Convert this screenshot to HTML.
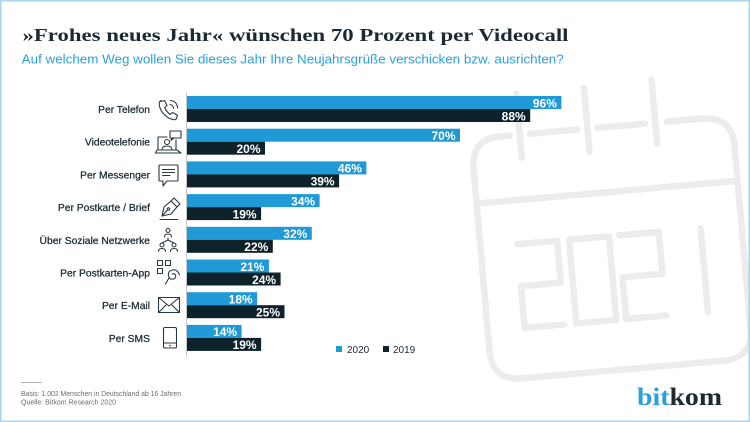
<!DOCTYPE html>
<html>
<head>
<meta charset="utf-8">
<style>
html,body{margin:0;padding:0;background:#fff;}
svg{display:block;}
</style>
</head>
<body>
<svg width="750" height="422" viewBox="0 0 750 422" xmlns="http://www.w3.org/2000/svg">
  <rect x="0" y="0" width="750" height="422" fill="#ffffff"/>

  <!-- watermark calendar -->
  <g transform="rotate(-5 612 248)" fill="none" stroke="#ececec" stroke-width="6.5" stroke-linecap="round" stroke-linejoin="round">
    <path d="M520,127 H511 Q481,127 481,157 V340 Q481,370 511,370 H713 Q743,370 743,340 V157 Q743,127 713,127 H678"/>
    <path d="M540,127 H588"/>
    <path d="M608,127 H656"/>
    <line x1="530" y1="86" x2="530" y2="150"/>
    <line x1="598" y1="86" x2="598" y2="150"/>
    <line x1="666" y1="84" x2="666" y2="148"/>
    <line x1="481" y1="192" x2="743" y2="192"/>
    <!-- 2021 -->
    <path d="M518,236 H558 V278 H518 V320 H558"/>
    <rect x="570" y="236" width="40" height="84"/>
    <path d="M620,236 H660 V278 H620 V320 H660"/>
    <line x1="702" y1="236" x2="702" y2="320"/>
  </g>

  <!-- frame -->
  <rect x="0.75" y="0.75" width="748.5" height="420.5" fill="none" stroke="#a9d5e7" stroke-width="1.5"/>

  <!-- title -->
  <text x="22.5" y="41" font-family="'Liberation Serif', serif" font-weight="bold" font-size="18" fill="#1b2a32" textLength="546" lengthAdjust="spacingAndGlyphs">»Frohes neues Jahr« wünschen 70 Prozent per Videocall</text>
  <text x="21.7" y="63.5" font-family="'Liberation Sans', sans-serif" font-size="13" fill="#2b9fd9" textLength="542" lengthAdjust="spacingAndGlyphs">Auf welchem Weg wollen Sie dieses Jahr Ihre Neujahrsgrüße verschicken bzw. ausrichten?</text>

  <!-- axis -->
  <line x1="186.5" y1="92" x2="186.5" y2="357" stroke="#c8c8c8" stroke-width="1"/>

  <!-- bars -->
  <g>
    <rect x="187" y="96" width="374.4" height="13" fill="#1f9ad6"/>
    <rect x="187" y="109" width="343.2" height="13" fill="#0d222b"/>
    <rect x="187" y="128.7" width="273" height="13" fill="#1f9ad6"/>
    <rect x="187" y="141.7" width="78" height="13" fill="#0d222b"/>
    <rect x="187" y="161.4" width="179.4" height="13" fill="#1f9ad6"/>
    <rect x="187" y="174.4" width="152.1" height="13" fill="#0d222b"/>
    <rect x="187" y="194.1" width="132.6" height="13" fill="#1f9ad6"/>
    <rect x="187" y="207.1" width="74.1" height="13" fill="#0d222b"/>
    <rect x="187" y="226.8" width="124.8" height="13" fill="#1f9ad6"/>
    <rect x="187" y="239.8" width="85.8" height="13" fill="#0d222b"/>
    <rect x="187" y="259.5" width="81.9" height="13" fill="#1f9ad6"/>
    <rect x="187" y="272.5" width="93.6" height="13" fill="#0d222b"/>
    <rect x="187" y="292.2" width="70.2" height="13" fill="#1f9ad6"/>
    <rect x="187" y="305.2" width="97.5" height="13" fill="#0d222b"/>
    <rect x="187" y="324.9" width="54.6" height="13" fill="#1f9ad6"/>
    <rect x="187" y="337.9" width="74.1" height="13" fill="#0d222b"/>
  </g>

  <!-- value labels -->
  <g font-family="'Liberation Sans', sans-serif" font-weight="bold" font-size="12" fill="#ffffff" text-anchor="end">
    <text x="556.9" y="107.3">96%</text>
    <text x="525.7" y="120.3">88%</text>
    <text x="455.5" y="140">70%</text>
    <text x="260.5" y="153">20%</text>
    <text x="361.9" y="172.7">46%</text>
    <text x="334.6" y="185.7">39%</text>
    <text x="315.1" y="205.4">34%</text>
    <text x="256.6" y="218.4">19%</text>
    <text x="307.3" y="238.1">32%</text>
    <text x="268.3" y="251.1">22%</text>
    <text x="264.4" y="270.8">21%</text>
    <text x="276.1" y="283.8">24%</text>
    <text x="252.7" y="303.5">18%</text>
    <text x="280" y="316.5">25%</text>
    <text x="237.1" y="336.2">14%</text>
    <text x="256.6" y="349.2">19%</text>
  </g>

  <!-- category labels -->
  <g font-family="'Liberation Sans', sans-serif" font-size="10.3" fill="#1a2830" stroke="#1a2830" stroke-width="0.25" text-anchor="end">
    <text x="150" y="113">Per Telefon</text>
    <text x="150" y="145.7">Videotelefonie</text>
    <text x="150" y="178.4">Per Messenger</text>
    <text x="150" y="211.1">Per Postkarte / Brief</text>
    <text x="150" y="243.8">Über Soziale Netzwerke</text>
    <text x="150" y="276.5">Per Postkarten-App</text>
    <text x="150" y="309.2">Per E-Mail</text>
    <text x="150" y="341.9">Per SMS</text>
  </g>

  <!-- icons -->
  <g fill="none" stroke="#2a3840" stroke-width="1.1" stroke-linecap="round" stroke-linejoin="round">
    <!-- phone -->
    <path d="M161,101.5 l3.5,-1 l2.5,5 l-2.3,2 q1.5,4 5.5,7 l2.2,-2 l5,2.6 l-1,3.6 q-1,1.3 -3,1 q-7,-1.5 -11.5,-8 q-3,-4.5 -2.6,-9 q0.3,-1.5 1.7,-2.2 z"/>
    <path d="M170,104.5 q3.2,0.4 3.6,4"/>
    <path d="M170.5,100.5 q6.3,0.6 7.2,7.5"/>
    <!-- video -->
    <path d="M167,137 H158 V150 H176 V140"/>
    <path d="M155.5,153 H181 M157,150 L155.5,153 M177,150 L181,153"/>
    <rect x="170" y="131" width="11" height="7"/>
    <path d="M172,138 L171,140.5 L174,138"/>
    <circle cx="167" cy="142" r="2.5"/>
    <path d="M162,150 q0,-4 5,-4 q5,0 5,4"/>
    <!-- messenger -->
    <path d="M160,165 H177 Q178,165 178,166 V180 Q178,181 177,181 H167 L163,186 V181 H160 Q159,181 159,180 V166 Q159,165 160,165 Z"/>
    <path d="M162.5,169.5 H174.5 M162.5,172.5 H174.5 M162.5,175.5 H170"/>
    <!-- pen -->
    <path d="M162,216 L164,207 L171,201 L177,207 L171,214 Z"/>
    <path d="M162,216 L167.5,210"/>
    <circle cx="168.5" cy="209" r="1.2"/>
    <path d="M171,201 L174,198 L180,204 L177,207"/>
    <path d="M160,219.5 H178"/>
    <!-- social -->
    <circle cx="168" cy="230.5" r="2"/>
    <path d="M164.5,237 q0,-3 3.5,-3 q3.5,0 3.5,3"/>
    <path d="M168,238 V240 M162,243 L168,240 L174,243"/>
    <circle cx="162" cy="245" r="2"/>
    <circle cx="174" cy="245" r="2"/>
    <path d="M158.5,251.5 q0,-3 3.5,-3 q3.5,0 3.5,3 M170.5,251.5 q0,-3 3.5,-3 q3.5,0 3.5,3"/>
    <!-- app -->
    <rect x="157.5" y="260.5" width="5" height="5"/>
    <rect x="165.5" y="260.5" width="5" height="5"/>
    <rect x="157.5" y="268.5" width="5" height="5"/>
    <path d="M179.5,275 q-2,-6 -7,-5 q-5,1 -4,6 q1,4 5,3 q3,-1 2,-4 q-1,-2 -3,-1"/>
    <path d="M169,278 L165.5,284"/>
    <!-- mail -->
    <rect x="158.5" y="297.5" width="21" height="15"/>
    <path d="M158.5,297.5 L169,306 L179.5,297.5 M158.5,312.5 L166,305 M179.5,312.5 L172,305"/>
    <!-- sms -->
    <rect x="163.5" y="327.5" width="13" height="20.5" rx="1.5"/>
    <path d="M163.5,343 H176.5"/>
  </g>
  <circle cx="170" cy="345.6" r="0.8" fill="#2a3840"/>

  <!-- legend -->
  <rect x="336" y="346" width="6" height="6" fill="#1f9ad6"/>
  <text x="347" y="353" font-family="'Liberation Sans', sans-serif" font-size="10" fill="#1e2c34">2020</text>
  <rect x="383" y="346" width="6" height="6" fill="#0d222b"/>
  <text x="393" y="353" font-family="'Liberation Sans', sans-serif" font-size="10" fill="#1e2c34">2019</text>

  <!-- footer -->
  <line x1="21" y1="382.5" x2="42" y2="382.5" stroke="#9a9a9a" stroke-width="0.8"/>
  <text x="21" y="396" font-family="'Liberation Sans', sans-serif" font-size="7.5" fill="#6b6b6b" textLength="160" lengthAdjust="spacingAndGlyphs">Basis: 1.002 Menschen in Deutschland ab 16 Jahren</text>
  <text x="21" y="404.5" font-family="'Liberation Sans', sans-serif" font-size="7.5" fill="#6b6b6b" textLength="95" lengthAdjust="spacingAndGlyphs">Quelle: Bitkom Research 2020</text>

  <!-- logo -->
  <text x="637" y="405" font-family="'Liberation Serif', serif" font-weight="bold" font-size="25" textLength="85" lengthAdjust="spacingAndGlyphs"><tspan fill="#2b9fd9">bit</tspan><tspan fill="#1c2a31">kom</tspan></text>
</svg>
</body>
</html>
